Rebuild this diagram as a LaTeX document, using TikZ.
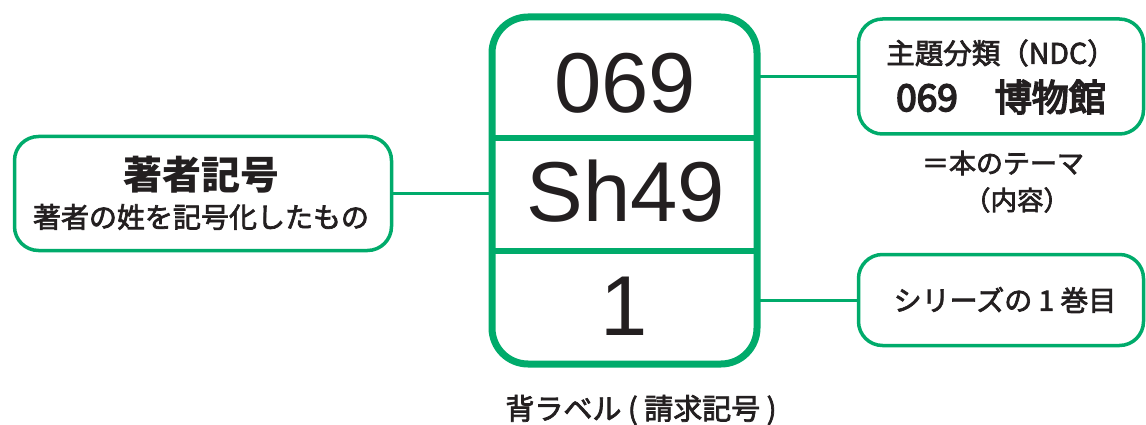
\documentclass[tikz,border=0pt]{standalone}
\usepackage{fontspec}
\setmainfont{Liberation Sans}
\newfontfamily\jp{Noto Sans CJK JP}
\newfontfamily\jpm[FakeBold=2.5]{Noto Sans CJK JP}
\newfontfamily\jpb[FakeBold=4.5]{Noto Sans CJK JP}
\definecolor{lg}{RGB}{0,171,107}
\definecolor{ink}{RGB}{35,31,32}
\begin{document}
\begin{tikzpicture}[x=1pt,y=-1pt,
  box/.style={draw=lg, line width=3.5pt, rounded corners=24pt, fill=white, inner sep=0pt, outer sep=0pt},
  mainbox/.style={box, line width=7pt, rounded corners=36pt},
  conn/.style={draw=lg, line width=3pt},
  divider/.style={draw=lg, line width=6pt},
  big/.style={font=\fontsize{85}{85}\selectfont, text=ink, inner sep=0pt},
  jt/.style={text=ink, inner sep=0pt}]
\useasboundingbox (0,0) rectangle (1146,425);
% boxes
\node[mainbox, minimum width=265pt, minimum height=347pt] (main) at (624.5,190.5) {};
\node[box, minimum width=377pt, minimum height=114pt] (lbox) at (203,193.5) {};
\node[box, minimum width=285pt, minimum height=115pt] (nbox) at (1001,76.5) {};
\node[box, minimum width=285pt, minimum height=91pt] (sbox) at (1001,300) {};
% dividers
\coordinate (d1) at (0,138.5);
\coordinate (d2) at (0,250.5);
\draw[divider] (main.west |- d1) -- (main.east |- d1);
\draw[divider] (main.west |- d2) -- (main.east |- d2);
% connectors
\draw[conn] (lbox.east) -- (lbox.east -| main.west);
\draw[conn] (main.east |- nbox.west) -- (nbox.west);
\draw[conn] (main.east |- sbox.west) -- (sbox.west);
% main texts
\node[big] (t1) at (625,83) {069};
\node[big] (t2) at (626,191) {Sh49};
\node[big] (t3) at (624,306) {1};
% left texts
\node[jt, font=\jp\bfseries\fontsize{39}{39}\selectfont] (lt1) at (201,175) {著者記号};
\node[jt, font=\jpm\fontsize{28}{28}\selectfont] (lt2) at (201,217) {著者の姓を記号化したもの};
% right top texts
\node[jt, font=\jpm\fontsize{28.5}{28.5}\selectfont] (nt1) at (1001,53) {主題分類（NDC）};
\node[jt, font=\jpb\fontsize{37}{37}\selectfont] (nt2) at (1001,97) {069　博物館};
\node[jt, font=\jpm\fontsize{27}{27}\selectfont] (nt3) at (1003,163) {＝本のテーマ};
\node[jt, font=\jpm\fontsize{26.5}{26.5}\selectfont] (nt4) at (1017,200) {（内容）};
% right bottom text
\node[jt, font=\jpm\fontsize{28}{28}\selectfont] (st) at (1005,300) {シリーズの 1 巻目};
% caption
\node[jt, font=\jpm\fontsize{29}{29}\selectfont] (cap) at (641,410) {背ラベル ( 請求記号 )};
\end{tikzpicture}
\end{document}
